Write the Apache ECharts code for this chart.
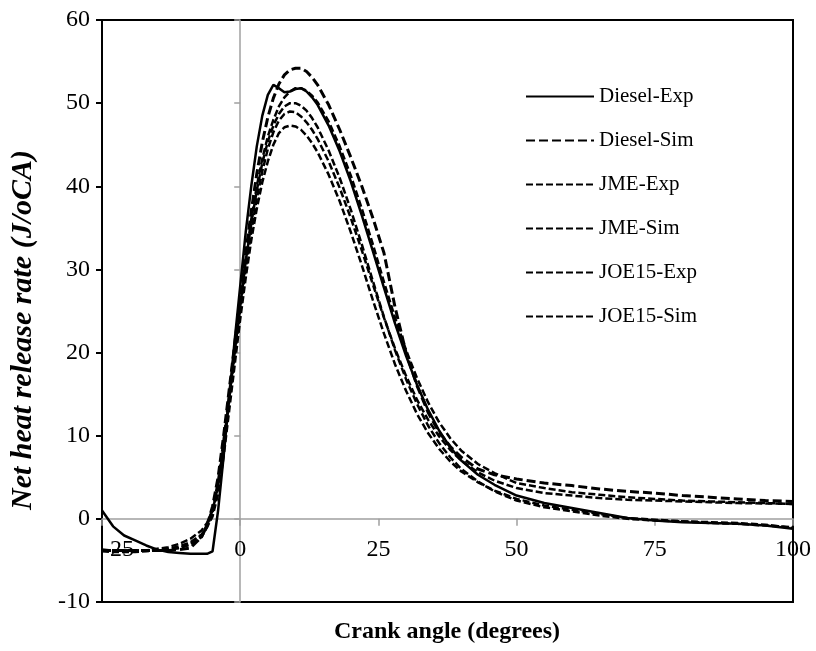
<!DOCTYPE html>
<html>
<head>
<meta charset="utf-8">
<script src="https://cdn.jsdelivr.net/npm/echarts@6/dist/echarts.min.js"></script>
<style>
  html, body { margin: 0; padding: 0; background: #fff; }
  #chart { width: 816px; height: 651px; }
</style>
</head>
<body>
<div id="chart"></div>
<script>
// crank angle (deg) shared by all series
var crank = [-25, -23, -21, -19, -17, -15, -13, -11, -9, -7,
    -6, -5, -4, -3, -2, -1, 0, 1, 2, 3, 4, 5, 6, 7, 8, 9, 10, 11, 12, 13, 14,
    16, 18, 20, 22, 24, 26, 28, 30, 32, 34, 36, 38, 40,
    43, 46, 50,
    55, 60, 65, 70, 75, 80, 85, 90, 95, 100];

var dieselExp = [1.0, -0.9, -2.0, -2.6, -3.2, -3.7, -4.0, -4.1, -4.2, -4.2,
    -4.2, -3.9, 1.0, 7.5, 14.5, 21.5, 28.0, 34.5, 40.0, 44.8, 48.5, 51.0, 52.2, 51.8, 51.3, 51.4, 51.7, 51.8, 51.4, 50.7, 49.8,
    47.3, 44.2, 40.6, 36.5, 32.2, 27.8, 23.5, 19.6, 16.1, 13.1, 10.6, 8.6, 7.0,
    5.3, 4.1, 2.8,
    1.9, 1.3, 0.7, 0.1, -0.2, -0.4, -0.5, -0.6, -0.8, -1.2];

var dieselSim = [-3.8, -3.8, -3.8, -3.8, -3.8, -3.8, -3.8, -3.7, -3.5, -2.2,
    -0.8, 1.5, 5.0, 10.0, 15.5, 21.0, 26.5, 32.0, 37.0, 41.5, 45.3, 48.3, 50.6, 52.3, 53.4, 54.0, 54.2, 54.2, 53.8, 53.1, 52.2,
    49.8, 46.8, 43.5, 40.0, 36.2, 32.0, 25.5, 20.0, 16.0, 12.8, 10.4, 8.7, 7.4,
    6.0, 5.3, 4.8,
    4.3, 4.0, 3.6, 3.3, 3.1, 2.8, 2.6, 2.4, 2.2, 2.1];

var jmeExp = [-3.7, -3.8, -3.9, -3.9, -3.8, -3.6, -3.4, -3.0, -2.4, -1.4,
    -0.5, 1.0, 4.0, 9.0, 14.5, 20.0, 25.5, 31.0, 35.5, 39.5, 42.8, 45.4, 47.3, 48.7, 49.6, 50.0, 50.0, 49.7, 49.1, 48.2, 47.1,
    44.3, 41.0, 37.2, 33.0, 28.6, 24.3, 20.3, 16.8, 13.8, 11.2, 9.1, 7.4, 6.0,
    4.5, 3.3, 2.2,
    1.4, 0.9, 0.4, 0.0, -0.2, -0.3, -0.5, -0.6, -0.8, -1.0];

var jmeSim = [-3.8, -3.8, -3.8, -3.8, -3.8, -3.8, -3.7, -3.5, -3.0, -2.0,
    -0.7, 1.2, 4.5, 9.5, 15.0, 20.5, 26.0, 31.3, 36.0, 40.0, 43.3, 46.0, 48.0, 49.6, 50.7, 51.4, 51.8, 51.8, 51.5, 50.9, 50.1,
    47.8, 44.8, 41.3, 37.3, 33.0, 28.5, 24.2, 20.3, 16.9, 14.0, 11.6, 9.7, 8.2,
    6.6, 5.5, 4.3,
    3.7, 3.2, 2.9, 2.6, 2.4, 2.2, 2.1, 2.0, 1.9, 1.8];

var joeExp = [-3.9, -4.0, -4.0, -4.0, -3.9, -3.8, -3.6, -3.3, -2.8, -1.9,
    -1.0, 0.3, 3.0, 7.5, 13.0, 18.5, 24.0, 29.0, 33.5, 37.3, 40.5, 43.0, 45.0, 46.4, 47.1, 47.3, 47.2, 46.8, 46.1, 45.2, 44.1,
    41.4, 38.2, 34.5, 30.5, 26.3, 22.3, 18.6, 15.4, 12.6, 10.3, 8.4, 6.9, 5.7,
    4.4, 3.4, 2.4,
    1.6, 1.1, 0.6, 0.1, -0.1, -0.3, -0.4, -0.5, -0.7, -1.1];

var joeSim = [-3.8, -3.8, -3.8, -3.8, -3.8, -3.8, -3.7, -3.5, -3.1, -2.2,
    -1.0, 0.8, 3.8, 8.5, 14.0, 19.5, 25.0, 30.0, 34.5, 38.5, 41.8, 44.5, 46.5, 47.9, 48.7, 49.0, 48.9, 48.4, 47.7, 46.8, 45.7,
    43.0, 39.8, 36.2, 32.3, 28.2, 24.2, 20.5, 17.2, 14.3, 11.9, 9.9, 8.3, 7.0,
    5.6, 4.6, 3.7,
    3.1, 2.8, 2.5, 2.3, 2.2, 2.1, 2.0, 1.9, 1.85, 1.8];

var seriesNames = ['Diesel-Exp', 'Diesel-Sim', 'JME-Exp', 'JME-Sim', 'JOE15-Exp', 'JOE15-Sim'];
var seriesValues = [dieselExp, dieselSim, jmeExp, jmeSim, joeExp, joeSim];
var xTicks = [-25, 0, 25, 50, 75, 100];
var yTicks = [-10, 0, 10, 20, 30, 40, 50, 60];

var font = 'Liberation Serif';

function pairs(vals) {
    var out = [];
    for (var i = 0; i < crank.length; i++) out.push([crank[i], vals[i]]);
    return out;
}

var lineStyles = [
    { width: 2.5, type: 'solid' },
    { width: 3, type: [9, 4] },
    { width: 2.5, type: [7, 3] },
    { width: 2.5, type: [7, 3] },
    { width: 2.5, type: [7, 3] },
    { width: 2.5, type: [7, 3] }
];

var series = seriesNames.map(function (n, i) {
    return {
        name: n,
        type: 'line',
        xAxisIndex: 0,
        yAxisIndex: 0,
        symbol: 'none',
        data: pairs(seriesValues[i]),
        lineStyle: { color: '#000', width: lineStyles[i].width, type: lineStyles[i].type },
        itemStyle: { color: '#000' }
    };
});

var option = {
    animation: false,
    backgroundColor: '#fff',
    textStyle: { fontFamily: font },
    grid: {
        left: 102, right: 23, top: 20, bottom: 49,
        outerBoundsMode: 'none',
        containLabel: false,
        show: true, borderColor: '#000', borderWidth: 2,
        backgroundColor: 'transparent'
    },
    legend: {
        orient: 'vertical',
        left: 525,
        top: 86,
        itemWidth: 68,
        itemHeight: 12,
        itemGap: 23,
        padding: 0,
        data: seriesNames,
        itemStyle: { opacity: 0 },
        textStyle: { fontFamily: font, fontSize: 21, color: '#000' }
    },
    xAxis: [{
        // gray axis line through y = 0
        type: 'value',
        min: xTicks[0],
        max: xTicks[xTicks.length - 1],
        interval: 25,
        axisLine: { onZero: true, lineStyle: { color: '#a0a0a0', width: 1.5 } },
        axisTick: { show: true, length: 7, lineStyle: { color: '#a0a0a0', width: 1.5 } },
        axisLabel: { show: false },
        splitLine: { show: false }
    }, {
        // tick labels sitting under the zero line
        type: 'value',
        position: 'bottom',
        offset: -84,
        min: xTicks[0],
        max: xTicks[xTicks.length - 1],
        interval: 25,
        axisLine: { show: false, onZero: false },
        axisTick: { show: false },
        axisLabel: { fontFamily: font, fontSize: 24, color: '#000', margin: 20, alignMinLabel: 'left' },
        splitLine: { show: false }
    }],
    yAxis: [{
        type: 'value',
        min: yTicks[0],
        max: yTicks[yTicks.length - 1],
        interval: 10,
        axisLine: { show: true, onZero: true, lineStyle: { color: '#a0a0a0', width: 1.5 } },
        axisTick: { show: true, length: 6, lineStyle: { color: '#a0a0a0', width: 1.5 } },
        axisLabel: { show: false },
        splitLine: { show: false }
    }, {
        type: 'value',
        position: 'left',
        min: yTicks[0],
        max: yTicks[yTicks.length - 1],
        interval: 10,
        axisLine: { show: false, onZero: false },
        axisTick: { show: true, length: 6, lineStyle: { color: '#000', width: 2 } },
        axisLabel: { fontFamily: font, fontSize: 24, color: '#000', margin: 12 },
        splitLine: { show: false }
    }],
    graphic: [{
        type: 'text',
        x: 23,
        y: 330,
        rotation: Math.PI / 2,
        style: {
            text: 'Net heat release rate (J/oCA)',
            font: 'italic bold 30px "Liberation Serif"',
            fill: '#000',
            align: 'center',
            verticalAlign: 'middle'
        }
    }, {
        type: 'text',
        x: 447,
        y: 632,
        style: {
            text: 'Crank angle (degrees)',
            font: 'bold 24px "Liberation Serif"',
            fill: '#000',
            align: 'center',
            verticalAlign: 'middle'
        }
    }],
    series: series
};

var chart = echarts.init(document.getElementById('chart'));
chart.setOption(option);
</script>
</body>
</html>
